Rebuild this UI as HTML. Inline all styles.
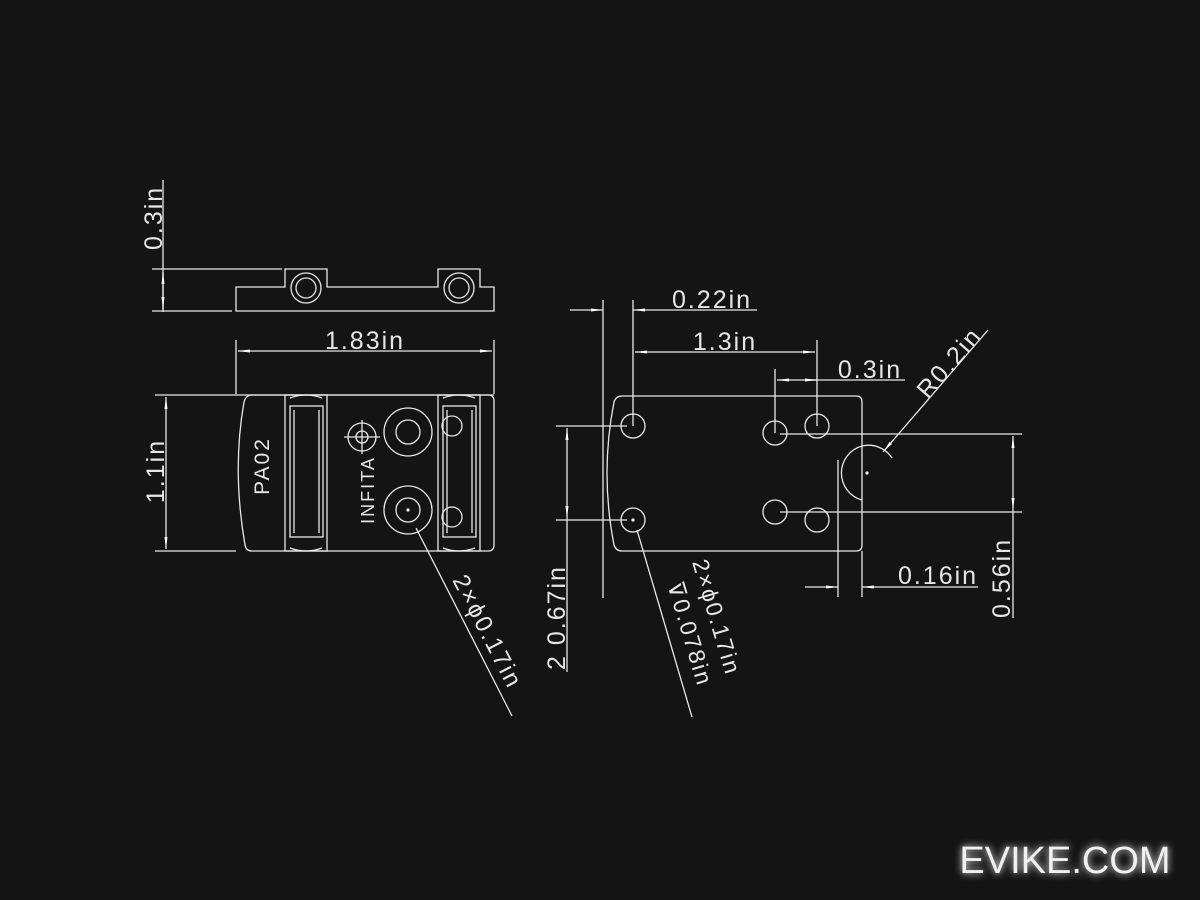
<!DOCTYPE html>
<html><head><meta charset="utf-8"><style>
html,body{margin:0;padding:0;background:#141414;}
svg{display:block}
text{font-family:"Liberation Sans",sans-serif;fill:#e6e6e6;font-size:25px;letter-spacing:2px}
</style></head><body>
<svg width="1200" height="900" viewBox="0 0 1200 900" xmlns="http://www.w3.org/2000/svg">
<defs>
<marker id="a" viewBox="0 0 12 6" refX="12" refY="3" markerWidth="12" markerHeight="6" orient="auto-start-reverse" markerUnits="userSpaceOnUse"><path d="M0,1.5 L12,3 L0,4.5z" fill="#fff"/></marker>
</defs>
<rect width="1200" height="900" fill="#141414"/>
<g stroke="#e8e8e8" stroke-width="1.3" fill="none">
<line x1="163" y1="180" x2="163" y2="312"/>
<line x1="152" y1="269" x2="282" y2="269"/>
<line x1="152" y1="311" x2="232" y2="311"/>
<line x1="163" y1="272" x2="163" y2="309" marker-start="url(#a)" marker-end="url(#a)"/>
<path d="M236,287 H285 V269 H327 V287 H438 V269 H480 V287 H494 V311 H236 Z"/>
<circle cx="306" cy="288" r="15"/><circle cx="306" cy="288" r="10"/>
<circle cx="459" cy="288" r="15"/><circle cx="459" cy="288" r="10"/>
<line x1="236" y1="340" x2="236" y2="394"/>
<line x1="494" y1="340" x2="494" y2="394"/>
<line x1="238" y1="351" x2="492" y2="351" marker-start="url(#a)" marker-end="url(#a)"/>
<line x1="155" y1="395" x2="494" y2="395"/>
<line x1="155" y1="551" x2="236" y2="551"/>
<line x1="166" y1="397" x2="166" y2="549" marker-start="url(#a)" marker-end="url(#a)"/>
<path d="M252,395 H488 Q494,395 494,401 V545 Q494,551 488,551 H252 Q246,551 245,545 Q232,470 244,402 Q246,395 252,395 Z"/>
<rect x="285" y="395" width="42" height="156"/>
<rect x="290" y="406" width="33" height="131"/>
<line x1="294" y1="410" x2="294" y2="533"/><line x1="319" y1="410" x2="319" y2="533"/>
<path d="M290,398 Q306,392 322,398"/><path d="M290,548 Q306,554 322,548"/>
<rect x="438" y="395" width="42" height="156"/>
<rect x="443" y="406" width="33" height="131"/>
<line x1="447" y1="410" x2="447" y2="533"/><line x1="472" y1="410" x2="472" y2="533"/>
<path d="M443,398 Q459,392 475,398"/><path d="M443,548 Q459,554 475,548"/>
<circle cx="452" cy="426" r="10"/><circle cx="452" cy="517" r="10"/>
<circle cx="408" cy="432" r="24"/><circle cx="408" cy="432" r="12"/>
<circle cx="408" cy="510" r="24"/><circle cx="408" cy="510" r="12"/>
<circle cx="408" cy="510" r="1" fill="#fff"/>
<circle cx="362" cy="437" r="14"/><circle cx="362" cy="437" r="6"/>
<line x1="344" y1="437" x2="380" y2="437"/><line x1="362" y1="420" x2="362" y2="454"/>
<line x1="416" y1="528" x2="512" y2="716"/>
<line x1="570" y1="310" x2="603" y2="310" marker-end="url(#a)"/>
<line x1="603" y1="300" x2="603" y2="598"/>
<line x1="633" y1="300" x2="633" y2="426"/>
<line x1="633" y1="310" x2="757" y2="310" marker-start="url(#a)"/>
<line x1="817" y1="340" x2="817" y2="426"/>
<line x1="635" y1="352" x2="815" y2="352" marker-start="url(#a)" marker-end="url(#a)"/>
<line x1="775" y1="369" x2="775" y2="433"/>
<line x1="777" y1="380" x2="905" y2="380" marker-start="url(#a)"/>
<line x1="806" y1="380" x2="817" y2="380" marker-end="url(#a)"/>
<path d="M622,396 H856 Q862,396 862,402 V545 Q862,551 856,551 H622 Q616,551 614,545 Q600,473 614,402 Q616,396 622,396 Z"/>
<path d="M862,446 A28,28 0 0 0 862,500"/>
<path d="M862,446 A28,28 0 0 1 892,458"/>
<circle cx="867" cy="473" r="1" fill="#fff"/>
<line x1="883" y1="452" x2="988" y2="330" marker-start="url(#a)"/>
<circle cx="633" cy="426" r="12"/><circle cx="633" cy="520" r="12"/>
<circle cx="633" cy="520" r="1" fill="#fff"/>
<circle cx="775" cy="433" r="12"/><circle cx="817" cy="426" r="12"/>
<circle cx="775" cy="512" r="12"/><circle cx="817" cy="520" r="12"/>
<line x1="556" y1="426" x2="627" y2="426"/>
<line x1="556" y1="520" x2="627" y2="520"/>
<line x1="567" y1="428" x2="567" y2="518" marker-start="url(#a)" marker-end="url(#a)"/>
<line x1="567" y1="518" x2="567" y2="672"/>
<line x1="780" y1="434" x2="1022" y2="434"/>
<line x1="780" y1="512" x2="1022" y2="512"/>
<line x1="1013" y1="436" x2="1013" y2="510" marker-start="url(#a)" marker-end="url(#a)"/>
<line x1="1013" y1="510" x2="1013" y2="618"/>
<line x1="838" y1="460" x2="838" y2="597"/>
<line x1="862" y1="551" x2="862" y2="597"/>
<line x1="805" y1="587" x2="838" y2="587" marker-end="url(#a)"/>
<line x1="978" y1="587" x2="862" y2="587" marker-end="url(#a)"/>
<line x1="637" y1="530" x2="692" y2="717"/>
</g>
<text transform="translate(162,250) rotate(-90)">0.3in</text>
<text x="365" y="349" text-anchor="middle">1.83in</text>
<text transform="translate(164,471) rotate(-90)" text-anchor="middle">1.1in</text>
<text transform="translate(269,466) rotate(-90)" text-anchor="middle" style="font-size:21px">PA02</text>
<text transform="translate(374,490) rotate(-90)" text-anchor="middle" style="font-size:18px">INFITA</text>
<text transform="translate(452,580) rotate(62.7)" style="font-size:24px">2×ϕ0.17in</text>
<text x="712" y="308" text-anchor="middle">0.22in</text>
<text x="725" y="350" text-anchor="middle">1.3in</text>
<text x="870" y="378" text-anchor="middle">0.3in</text>
<text transform="translate(928,400) rotate(-49)">R0.2in</text>
<text transform="translate(565,670) rotate(-90)">2  0.67in</text>
<text transform="translate(1010,618) rotate(-90)">0.56in</text>
<text x="938" y="584" text-anchor="middle">0.16in</text>
<text transform="translate(692,562) rotate(73.4)" style="font-size:23px">2×ϕ0.17in</text>
<text transform="translate(667,584) rotate(73.4)" style="font-size:23px">⊽0.078in</text>
<text x="1065" y="873" text-anchor="middle" style="font-size:38px;fill:#f0f0f0;letter-spacing:0px;filter:drop-shadow(0 0 4px #fff)">EVIKE.COM</text>
</svg>
</body></html>
